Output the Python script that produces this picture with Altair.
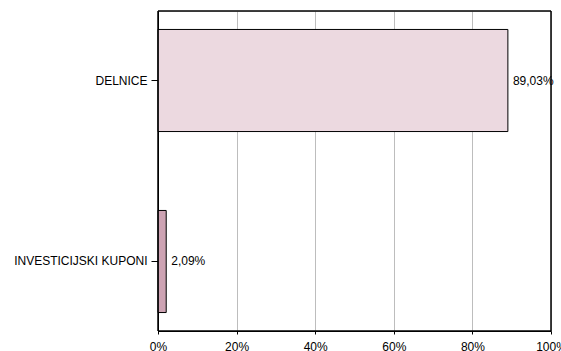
import altair as alt
import pandas as pd

categories = ["DELNICE", "INVESTICIJSKI KUPONI"]
values = [89.03, 2.09]
colors = ["#ECD9E0", "#CDA3B3"]

labels = [f"{v:.2f}".replace(".", ",") + "%" for v in values]
df = pd.DataFrame({"cat": categories, "val": values, "lab": labels, "col": colors})

font = "Liberation Sans"

y_enc = alt.Y("cat:N", sort=categories, title=None,
              scale=alt.Scale(paddingInner=0.436, paddingOuter=0.102),
              axis=alt.Axis(labelFont=font, labelFontSize=12, labelColor="#000",
                            tickColor="#000", tickSize=7, labelPadding=4,
                            domainColor="#000", grid=False))
x_enc = alt.X("val:Q", title=None,
              scale=alt.Scale(domain=[0, 100]),
              axis=alt.Axis(values=[0, 20, 40, 60, 80, 100],
                            labelExpr="datum.value + '%'",
                            labelFont=font, labelFontSize=12, labelColor="#000",
                            tickColor="#000", tickSize=3, labelPadding=7,
                            domainColor="#000", grid=True, gridColor="#BDBDBD",
                            labelFlush=False))

bars = alt.Chart(df).mark_bar(stroke="#000", strokeWidth=1).encode(
    x=x_enc, y=y_enc,
    color=alt.Color("col:N", scale=None),
)
text = alt.Chart(df).mark_text(align="left", baseline="middle", dx=5,
                               font=font, fontSize=12, color="#000").encode(
    x="val:Q", y=alt.Y("cat:N", sort=categories), text="lab:N"
)
frame = alt.Chart(df).mark_rect(fill=None, stroke="#000", strokeWidth=1).encode(
    x=alt.value(0), x2=alt.value(393), y=alt.value(0), y2=alt.value(320)
)

chart = (bars + text + frame).properties(
    width=393, height=320,
    autosize=alt.AutoSizeParams(type="none"),
    padding={"left": 158, "top": 11, "right": 10, "bottom": 20},
).configure_view(stroke="#000", strokeWidth=1).configure(background="white")

chart.save("out.html", embed_options={"renderer": "svg", "actions": False})
